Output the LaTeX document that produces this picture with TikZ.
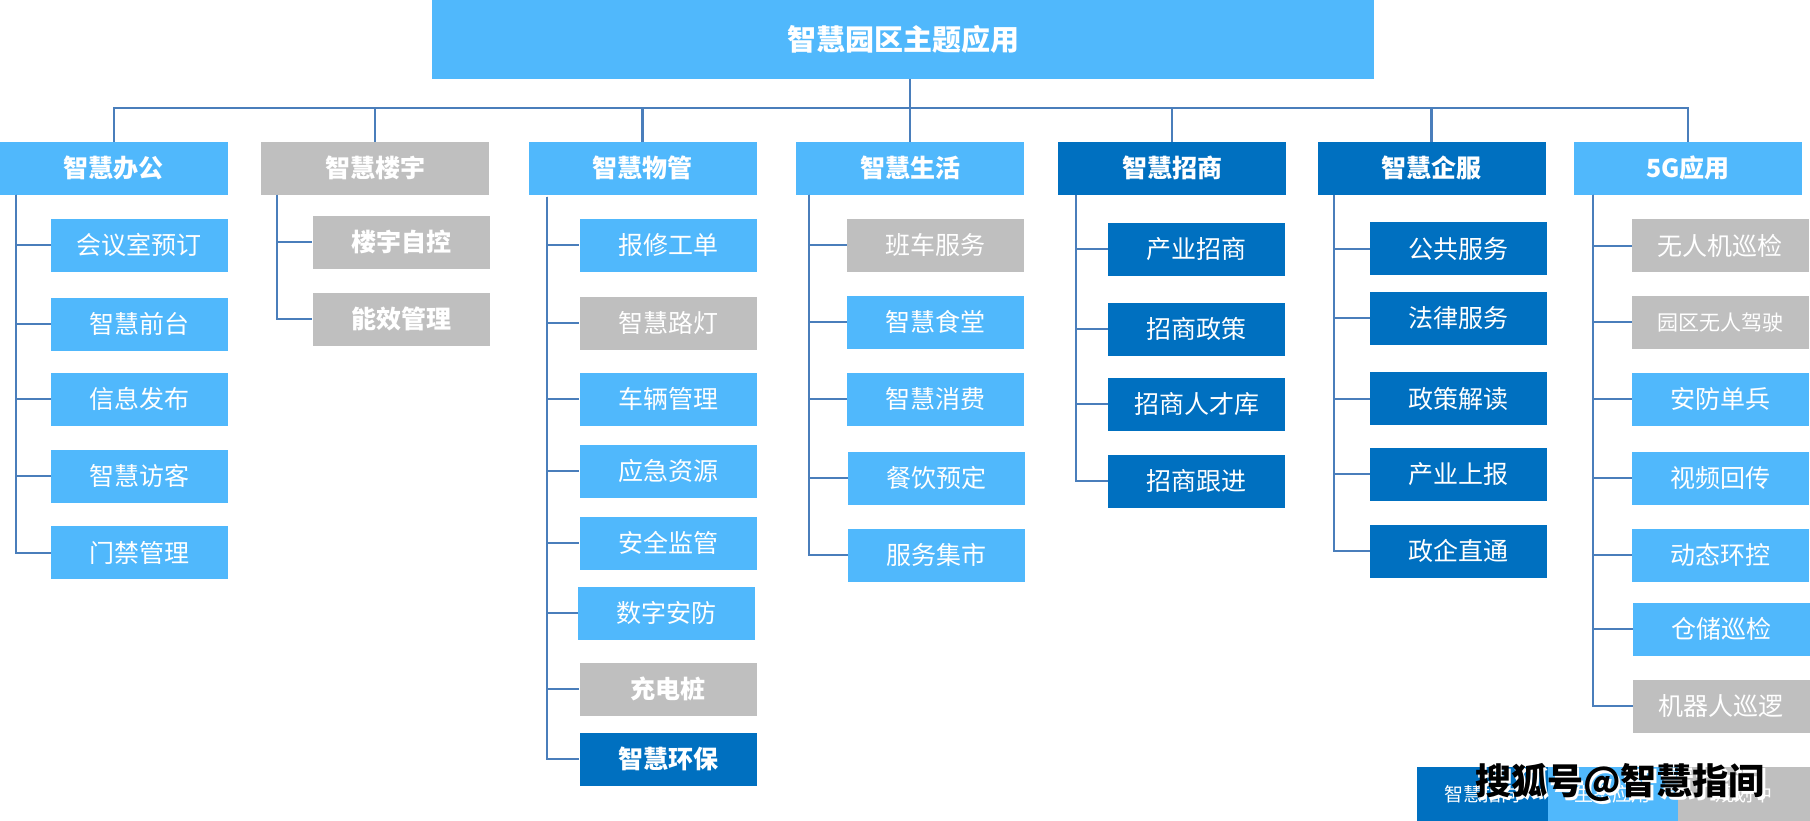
\documentclass[tikz,border=0pt]{standalone}
\usepackage{fontspec}
\setmainfont{Noto Sans CJK SC}
\definecolor{lb}{RGB}{80,184,252}
\definecolor{db}{RGB}{0,112,192}
\definecolor{gr}{RGB}{191,191,191}
\definecolor{ln}{RGB}{74,126,187}
\tikzset{
  base/.style={rectangle, inner sep=0pt, text=white, anchor=center},
  cat/.style={base, minimum width=228pt, minimum height=53pt, font=\fontsize{25}{30}\selectfont\bfseries},
  leaf/.style={base, minimum width=177pt, minimum height=53pt, font=\fontsize{25}{30}\selectfont},
  bleaf/.style={leaf, font=\fontsize{25}{30}\selectfont\bfseries},
  lblue/.style={fill=lb}, dblue/.style={fill=db}, grey/.style={fill=gr},
  conn/.style={draw=ln, line width=2.2pt},
  legendbox/.style={base, minimum height=54pt, font=\fontsize{19}{22}\selectfont},
}
\begin{document}
\begin{tikzpicture}[x=1pt,y=-1pt]
\useasboundingbox (0,0) rectangle (1810,821);
% title
\node[base, fill=lb, minimum width=942pt, minimum height=79pt, font=\fontsize{29}{34}\selectfont\bfseries] (top) at (903,39.5) {智慧园区主题应用};
% categories
\node[cat,lblue] (a) at (113.8,168.3) {智慧办公};
\node[cat,grey]  (b) at (375,168.3) {智慧楼宇};
\node[cat,lblue] (c) at (642.5,168.3) {智慧物管};
\node[cat,lblue] (d) at (910,168.3) {智慧生活};
\node[cat,dblue] (e) at (1172,168.3) {智慧招商};
\node[cat,dblue] (f) at (1431.5,168.3) {智慧企服};
\node[cat,lblue] (g) at (1688,168.3) {5G应用};
% bus
\coordinate (bus) at (0,108);
\draw[conn] (a.north) -- (a.north |- bus) -- (g.north |- bus) -- (g.north);
\draw[conn] (top.south -| d.north) -- (d.north);
\foreach \n in {b,c,e,f} { \draw[conn] (\n.north) -- (\n.north |- bus); }
% column a
\node[leaf,lblue] (a1) at (139.3,245.3) {会议室预订};
\node[leaf,lblue] (a2) at (139.3,324.3) {智慧前台};
\node[leaf,lblue] (a3) at (139.3,399.3) {信息发布};
\node[leaf,lblue] (a4) at (139.3,476.3) {智慧访客};
\node[leaf,lblue] (a5) at (139.3,552.8) {门禁管理};
% column b
\node[bleaf,grey] (b1) at (401,242.3) {楼宇自控};
\node[bleaf,grey] (b2) at (401,319.3) {能效管理};
% column c
\node[leaf,lblue] (c1) at (668,245.3) {报修工单};
\node[leaf,grey]  (c2) at (668,323.2) {智慧路灯};
\node[leaf,lblue] (c3) at (668,399.3) {车辆管理};
\node[leaf,lblue] (c4) at (668,471.3) {应急资源};
\node[leaf,lblue] (c5) at (668,543.3) {安全监管};
\node[leaf,lblue] (c6) at (666.3,613.3) {数字安防};
\node[bleaf,grey] (c7) at (668,689.3) {充电桩};
\node[bleaf,dblue] (c8) at (668,759.3) {智慧环保};
% column d
\node[leaf,grey]  (d1) at (935.2,245.3) {班车服务};
\node[leaf,lblue] (d2) at (935.2,322.3) {智慧食堂};
\node[leaf,lblue] (d3) at (935.2,399.3) {智慧消费};
\node[leaf,lblue] (d4) at (936.7,478.3) {餐饮预定};
\node[leaf,lblue] (d5) at (936.7,555.3) {服务集市};
% column e
\node[leaf,dblue] (e1) at (1196.6,249.3) {产业招商};
\node[leaf,dblue] (e2) at (1196.6,329.3) {招商政策};
\node[leaf,dblue] (e3) at (1196.6,404.3) {招商人才库};
\node[leaf,dblue] (e4) at (1196.6,481.3) {招商跟进};
% column f
\node[leaf,dblue] (f1) at (1458.3,248.8) {公共服务};
\node[leaf,dblue] (f2) at (1458.3,318.3) {法律服务};
\node[leaf,dblue] (f3) at (1458.3,398.8) {政策解读};
\node[leaf,dblue] (f4) at (1458.3,474.3) {产业上报};
\node[leaf,dblue] (f5) at (1458.3,551.3) {政企直通};
% column g
\node[leaf,grey]  (g1) at (1720.4,245.8) {无人机巡检};
\node[leaf,grey,font=\fontsize{21}{25}\selectfont] (g2) at (1720.4,322.3) {园区无人驾驶};
\node[leaf,lblue] (g3) at (1720.4,399.3) {安防单兵};
\node[leaf,lblue] (g4) at (1720.4,478.3) {视频回传};
\node[leaf,lblue] (g5) at (1720.4,555.3) {动态环控};
\node[leaf,lblue] (g6) at (1721.4,629.3) {仓储巡检};
\node[leaf,grey]  (g7) at (1721.4,706.3) {机器人巡逻};
% trunks
\coordinate (ta) at (16.3,194.7);
\coordinate (tb) at (276.8,194.7);
\coordinate (tc) at (546.7,197);
\coordinate (td) at (809,194.7);
\coordinate (te) at (1075.9,194.7);
\coordinate (tf) at (1334,194.7);
\coordinate (tg) at (1593,194.7);
\foreach \k in {1,...,5} { \draw[conn] (ta) |- (a\k.west); }
\foreach \k in {1,2} { \draw[conn] (tb) |- (b\k.west); }
\foreach \k in {1,...,8} { \draw[conn] (tc) |- (c\k.west); }
\foreach \k in {1,...,5} { \draw[conn] (td) |- (d\k.west); }
\foreach \k in {1,...,4} { \draw[conn] (te) |- (e\k.west); }
\foreach \k in {1,...,5} { \draw[conn] (tf) |- (f\k.west); }
\foreach \k in {1,...,7} { \draw[conn] (tg) |- (g\k.west); }
% legend
\node[legendbox,fill=db,minimum width=131pt] (l1) at (1482.5,794) {智慧指向};
\node[legendbox,fill=lb,minimum width=129.7pt] (l2) at (1612.9,794) {生态应用};
\node[legendbox,fill=gr,minimum width=132.3pt] (l3) at (1743.9,794) {规划中};
% watermark
\node[text=white, font=\fontsize{36}{40}\selectfont\bfseries, inner sep=0pt] (wms) at (1622.5,785.5) {搜狐号@智慧指间};
\node[text=black, font=\fontsize{36}{40}\selectfont\bfseries, inner sep=0pt] (wm) at (1620,783) {搜狐号@智慧指间};
\end{tikzpicture}
\end{document}
